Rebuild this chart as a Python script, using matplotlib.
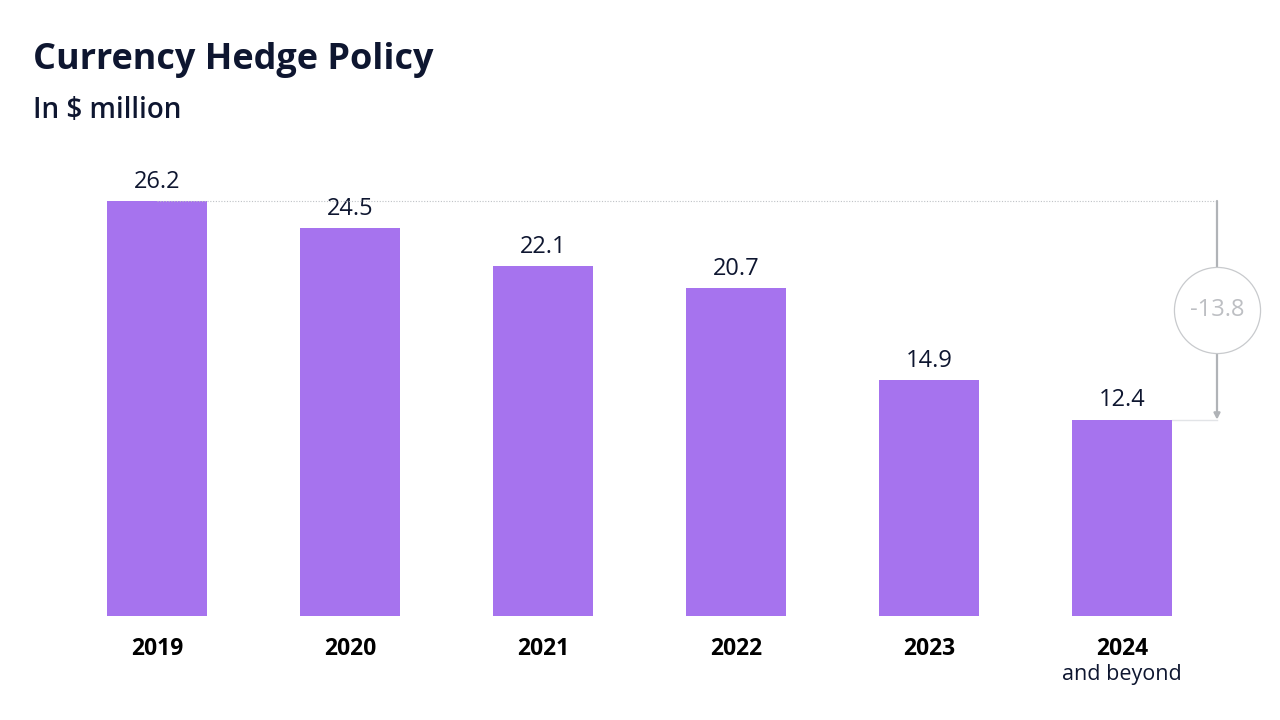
import matplotlib
matplotlib.use("Agg")
import matplotlib.pyplot as plt

years = ["2019", "2020", "2021", "2022", "2023", "2024"]
values = [26.2, 24.5, 22.1, 20.7, 14.9, 12.4]
last_note = "and beyond"
title = "Currency Hedge Policy"
subtitle = "In $ million"

BAR = "#A673EE"
NAVY = "#0E1630"

plt.rcParams['font.family'] = ['Open Sans', 'DejaVu Sans']

W, H = 1280, 720
fig = plt.figure(figsize=(12.8, 7.2), dpi=100)
ax = fig.add_axes([0, (H - 616) / H, 1, 616 / H])
n = len(values)
xs = list(range(n))
ax.set_xlim(-157 / 193, (W - 157) / 193)
ax.set_ylim(0, 616 / 15.84)
ax.bar(xs, values, width=100 / 193, color=BAR, zorder=2)
for s in ax.spines.values():
    s.set_visible(False)
ax.set_yticks([])
ax.set_xticks(xs)
ax.set_xticklabels(years, fontsize=16.5, fontweight='bold', color='black')
ax.tick_params(axis='x', length=0, pad=15)

for x, v in zip(xs, values):
    ax.annotate(f"{v}", (x, v), xytext=(0, 9.5), textcoords='offset points',
                ha='center', va='baseline', fontsize=17, color=NAVY)

ax.annotate(last_note, (xs[-1], 0), xytext=(0, -46), textcoords='offset points',
            ha='center', va='baseline', fontsize=15.5, color=NAVY)

# change annotation
xa = xs[-1] + (1217 - 1122) / 193
top, bot = values[0], values[-1]
ax.plot([xs[0], xa], [top, top], color='#BFC2C6', lw=0.8, ls=(0, (1, 1.5)), zorder=3)
ax.plot([xs[-1] + 50 / 193, xa], [bot, bot], color='#E2E4E7', lw=1.0, zorder=1)
ax.annotate("", xy=(xa, bot), xytext=(xa, top),
            arrowprops=dict(arrowstyle='-|>,head_length=0.35,head_width=0.18',
                            color='#B0B3B7', lw=1.6, shrinkA=0, shrinkB=0), zorder=3)
mid = (top + bot) / 2
ax.plot([xa], [mid], marker='o', markersize=62, markerfacecolor='white',
        markeredgecolor='#C8CACD', markeredgewidth=0.9, zorder=4)
ax.text(xa, mid, f"{bot - top:.1f}", ha='center', va='center', fontsize=17,
        color='#BDBFC3', zorder=5)

fig.text(33 / W, 1 - 68.5 / H, title, fontsize=25.9, fontweight='bold', color=NAVY,
         ha='left', va='baseline')
fig.text(33 / W, 1 - 118 / H, subtitle, fontsize=20, fontweight='semibold', color=NAVY,
         ha='left', va='baseline')

fig.savefig("out.png", dpi=100, facecolor='white')
